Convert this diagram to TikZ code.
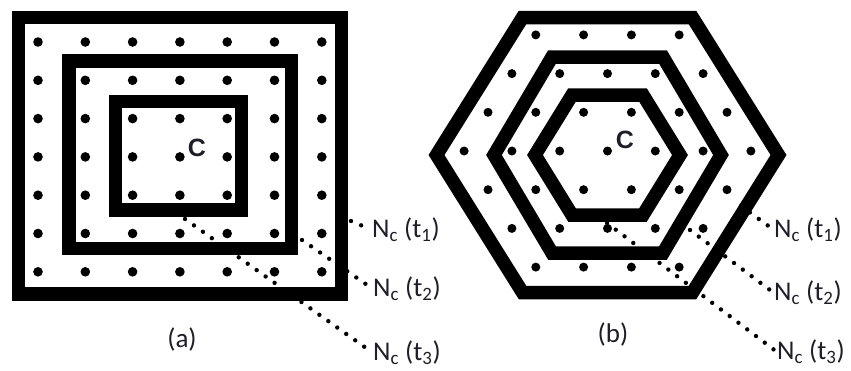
\documentclass[tikz,border=0pt]{standalone}
\usepackage{fontspec}
\setmainfont{Carlito}
\newfontfamily\capfont{Liberation Sans}
\usepackage{tikz}
\usetikzlibrary{positioning, calc}
\usepackage{xcolor}
\definecolor{ringblack}{HTML}{000000}
\definecolor{labeldark}{HTML}{1E1E28}

\begin{document}
\begin{tikzpicture}[
  x=1pt, y=-1pt,
  wall/.style={line width=13.5pt, draw=ringblack, line join=miter},
  site/.style={fill=ringblack},
  leader/.style={line width=4.4pt, line cap=round,
    dash pattern=on 0pt off 11pt, ringblack, shorten >=4pt},
  tag/.style={anchor=west, inner sep=0pt, text=labeldark,
    font=\fontsize{27}{30}\selectfont},
  hub/.style={text=labeldark, font=\capfont\bfseries\fontsize{25}{27}\selectfont},
  caption/.style={text=labeldark, font=\fontsize{27}{30}\selectfont}
]
  \useasboundingbox (0,0) rectangle (851,370);

  % (a) nested squares
  \foreach \xa/\ya/\xb/\yb in {18.5/17.5/341.5/294, 69/61/291.5/248.5,
                               115.5/101.5/241.5/210}
    \draw[wall] (\xa,\ya) rectangle (\xb,\yb);

  \foreach \col in {0,...,6}
    \foreach \row in {0,...,6}
      \fill[site] (38+47.3*\col, 42+38.3*\row) circle (4.8pt);

  % (b) nested hexagons
  \foreach \W/\w/\H in {171/85/137.5, 113.5/55.5/98, 72.5/35.5/60}
    \draw[wall] (607.5-\W,155) -- (607.5-\w,155-\H) -- (607.5+\w,155-\H)
      -- (607.5+\W,155) -- (607.5+\w,155+\H) -- (607.5-\w,155+\H) -- cycle;

  \foreach \row in {-3,...,3} {
    \pgfmathtruncatemacro{\n}{6-abs(\row)}
    \foreach \col in {0,...,\n}
      \fill[site] (607.5+47.8*\col-23.9*\n, 151+38.7*\row) circle (4.5pt);
  }

  % centres
  \node[hub] (sqcentre) at (197,148) {C};
  \node[hub] (hxcentre) at (625,140) {C};

  % labels
  \node[tag] (sqt1) at (372,230) {N\textsubscript{c} (t\textsubscript{1})};
  \node[tag] (sqt2) at (373,289) {N\textsubscript{c} (t\textsubscript{2})};
  \node[tag] (sqt3) at (373,353) {N\textsubscript{c} (t\textsubscript{3})};
  \node[tag] (hxt1) at (774,230) {N\textsubscript{c} (t\textsubscript{1})};
  \node[tag] (hxt2) at (774,293) {N\textsubscript{c} (t\textsubscript{2})};
  \node[tag] (hxt3) at (777,352) {N\textsubscript{c} (t\textsubscript{3})};

  % leader lines
  \coordinate (sqa) at (351,221);
  \coordinate (sqb) at (302,240);
  \coordinate (sqc) at (185,219);
  \coordinate (hxa) at (741,206);
  \coordinate (hxb) at (690,230);
  \coordinate (hxc) at (607,223);

  \draw[leader] (sqa) -- (sqt1.west);
  \draw[leader] (sqb) -- (sqt2.west);
  \draw[leader] (sqc) -- (sqt3.west);
  \draw[leader] (hxa) -- (hxt1.west);
  \draw[leader] (hxb) -- (hxt2.west);
  \draw[leader] (hxc) -- (hxt3.west);

  % captions
  \node[caption] (capa) at (182,339) {(a)};
  \node[caption] (capb) at (613,334) {(b)};
\end{tikzpicture}
\end{document}
